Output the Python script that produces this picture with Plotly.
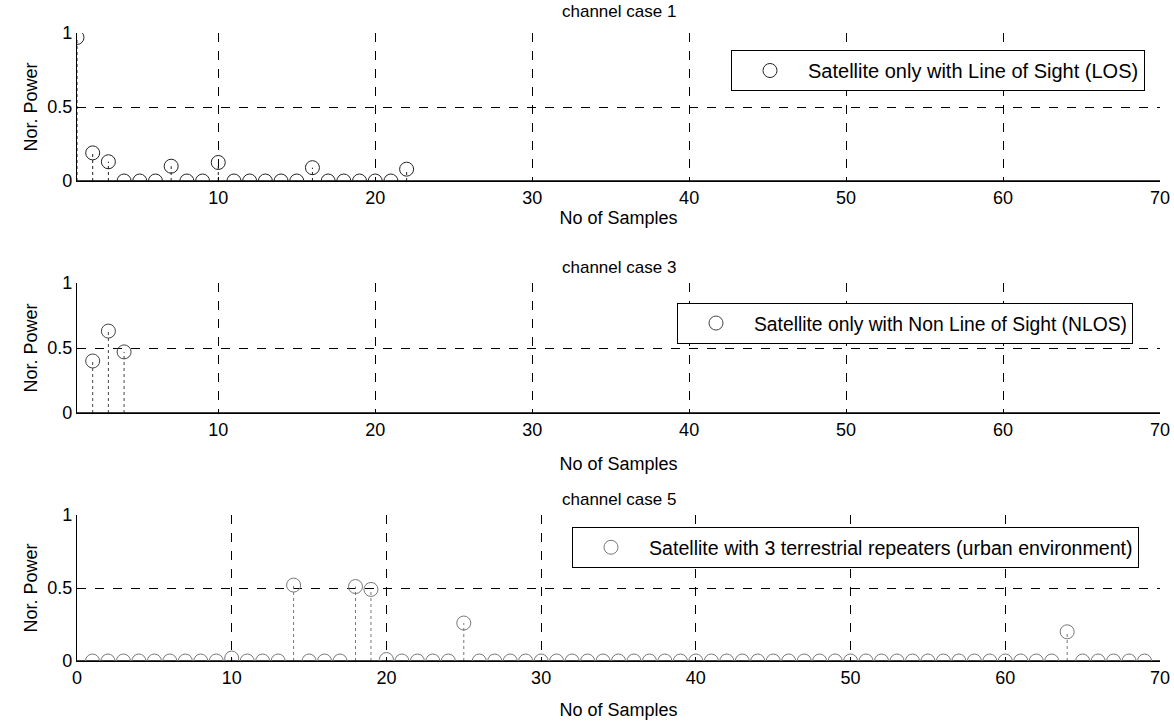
import plotly.graph_objects as go

# ---- data -------------------------------------------------------------
case1_x = list(range(1, 23))
case1_y = [0.97, 0.19, 0.13, 0, 0, 0, 0.10, 0, 0, 0.125, 0, 0, 0, 0, 0,
           0.09, 0, 0, 0, 0, 0, 0.08]

case3_x = [2, 3, 4]
case3_y = [0.40, 0.63, 0.47]

case5_x = list(range(1, 70))
case5_y = [0.0] * 69
for k, v in {10: 0.02, 14: 0.52, 18: 0.51, 19: 0.49, 20: 0.01,
             25: 0.26, 64: 0.20}.items():
    case5_y[k - 1] = v

titles = ["channel case 1", "channel case 3", "channel case 5"]
legends = ["Satellite only with Line of Sight (LOS)",
           "Satellite only with Non Line of Sight (NLOS)",
           "Satellite with 3 terrestrial repeaters (urban environment)"]
x_ranges = [[1, 70], [1, 70], [0, 70]]
x_ticks = [[10, 20, 30, 40, 50, 60, 70], [10, 20, 30, 40, 50, 60, 70],
           [0, 10, 20, 30, 40, 50, 60, 70]]
y_ticks = [0, 0.5, 1]

series = [(case1_x, case1_y), (case3_x, case3_y), (case5_x, case5_y)]

# ---- layout geometry (pixels) ----------------------------------------
W, H = 1174, 722
plot_top, plot_bot = 33, 661
panels = [(33, 181), (283, 413), (515, 661)]
span = plot_bot - plot_top


def dom(top, bot):
    return [(plot_bot - bot) / span, (plot_bot - top) / span]


FONT = "Liberation Sans, Arial, Helvetica, sans-serif"
fig = go.Figure()

legend_pos = [(731, 50), (677, 303), (572, 527)]
legend_font = [20, 19.3, 19.6]
marker_col = ["#222", "#444", "#777"]
xtitle_standoff = [4, 18, 16]
title_shift = [10, 4, 4]

for i, (xs, ys) in enumerate(series):
    n = i + 1
    xa = "x" if n == 1 else f"x{n}"
    ya = "y" if n == 1 else f"y{n}"
    lg = "legend" if n == 1 else f"legend{n}"

    # stems
    sx, sy = [], []
    for x, y in zip(xs, ys):
        sx += [x, x, None]
        sy += [0, y, None]
    fig.add_trace(go.Scatter(x=sx, y=sy, mode="lines", xaxis=xa, yaxis=ya,
                             line=dict(color=marker_col[i], width=1, dash="dot"),
                             showlegend=False, hoverinfo="skip"))
    # baseline
    fig.add_trace(go.Scatter(x=x_ranges[i], y=[0, 0], mode="lines",
                             xaxis=xa, yaxis=ya,
                             line=dict(color="black", width=1.5),
                             showlegend=False, hoverinfo="skip"))
    # markers
    fig.add_trace(go.Scatter(x=xs, y=ys, mode="markers", xaxis=xa, yaxis=ya,
                             name=legends[i], legend=lg,
                             marker=dict(symbol="circle-open", size=14,
                                         color=marker_col[i],
                                         line=dict(width=1,
                                                   color=marker_col[i]))))

    top, bot = panels[i]
    axis_common = dict(showline=True, linecolor="black", linewidth=1.2,
                       mirror=False, ticks="inside", ticklen=4,
                       tickcolor="black", showgrid=True, gridcolor="black",
                       griddash="dash", gridwidth=1, zeroline=False,
                       automargin=False,
                       tickfont=dict(family=FONT, size=18, color="black"))
    fig.layout[f"xaxis{'' if n == 1 else n}"] = dict(
        axis_common, domain=[0, 1], anchor=ya, range=x_ranges[i],
        tickvals=x_ticks[i],
        title=dict(text="No of Samples", standoff=xtitle_standoff[i],
                   font=dict(family=FONT, size=18, color="black")))
    fig.layout[f"yaxis{'' if n == 1 else n}"] = dict(
        axis_common, domain=dom(top, bot), anchor=xa, range=[0, 1],
        tickvals=y_ticks, ticktext=["0", "0.5", "1"],
        title=dict(text="Nor. Power", standoff=4,
                   font=dict(family=FONT, size=18, color="black")))

    lx, ly = legend_pos[i]
    fig.layout[lg] = dict(
        x=(lx - 77) / (W - 77 - 14), y=(plot_bot - ly) / span,
        xanchor="left", yanchor="top", bgcolor="white",
        bordercolor="black", borderwidth=1, tracegroupgap=0, itemwidth=66,
        font=dict(family=FONT, size=legend_font[i], color="black"))

    fig.add_annotation(text=titles[i], xref="paper", yref="paper",
                       x=0.5, y=(plot_bot - top) / span, yshift=title_shift[i],
                       xanchor="center", yanchor="bottom", showarrow=False,
                       font=dict(family=FONT, size=17, color="black"))

fig.update_layout(width=W, height=H, plot_bgcolor="white",
                  paper_bgcolor="white",
                  margin=dict(l=77, r=14, t=plot_top, b=H - plot_bot))

fig.write_html("out.html")
